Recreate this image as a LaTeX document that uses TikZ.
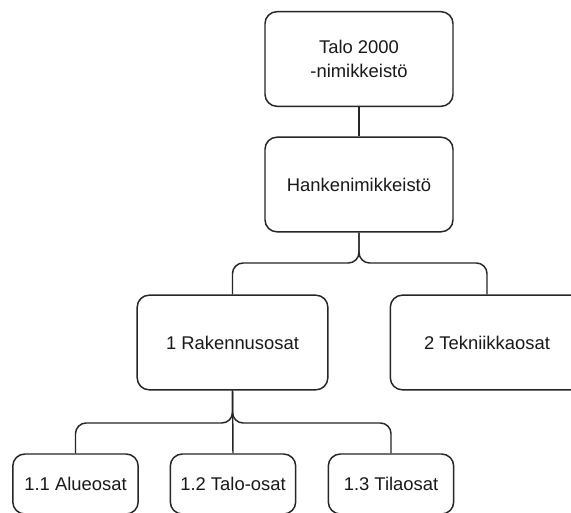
\documentclass[tikz,border=0pt]{standalone}
\usepackage{fontspec}
\setmainfont{Liberation Sans}
\begin{document}
\begin{tikzpicture}[x=0.75pt,y=-0.75pt,
  box/.style={draw=black!85, line width=1.1pt, rounded corners=9pt, fill=white,
    align=center, text=black!90, inner sep=0pt,
    font=\fontsize{13.8pt}{18.5pt}\selectfont},
  big/.style={box, minimum height=71pt},
  small/.style={box, minimum width=94pt, minimum height=45pt},
  conn/.style={draw=black!85, line width=1.1pt, rounded corners=8pt}]
\useasboundingbox (0,0) rectangle (571,513);
\clip (0,0) rectangle (571,513);
\fill[white] (0,0) rectangle (571,513);
\node[big, minimum width=141pt] (b1) at (359,59) {Talo 2000\\-nimikkeistö};
\node[big, minimum width=141pt] (b2) at (359,184.5) {Hankenimikkeistö};
\node[big, minimum width=143pt] (b3) at (232.5,342.5) {1 Rakennusosat};
\node[big, minimum width=145pt] (b4) at (487,342.5) {2 Tekniikkaosat};
\node[small] (b5) at (75.5,484) {1.1 Alueosat};
\node[small] (b6) at (233,484) {1.2 Talo-osat};
\node[small] (b7) at (391,484) {1.3 Tilaosat};
\coordinate (s1) at (359,263);
\coordinate (s2) at (232.5,423);
\draw[conn] (b1.south) -- (b2.north);
\draw[conn] (b2.south) -- (s1) -| (b3.north);
\draw[conn] (b2.south) -- (s1) -| (b4.north);
\draw[conn] (b3.south) -- (s2) -| (b5.north);
\draw[conn] (b3.south) -- (b6.north);
\draw[conn] (b3.south) -- (s2) -| (b7.north);
\end{tikzpicture}
\end{document}
